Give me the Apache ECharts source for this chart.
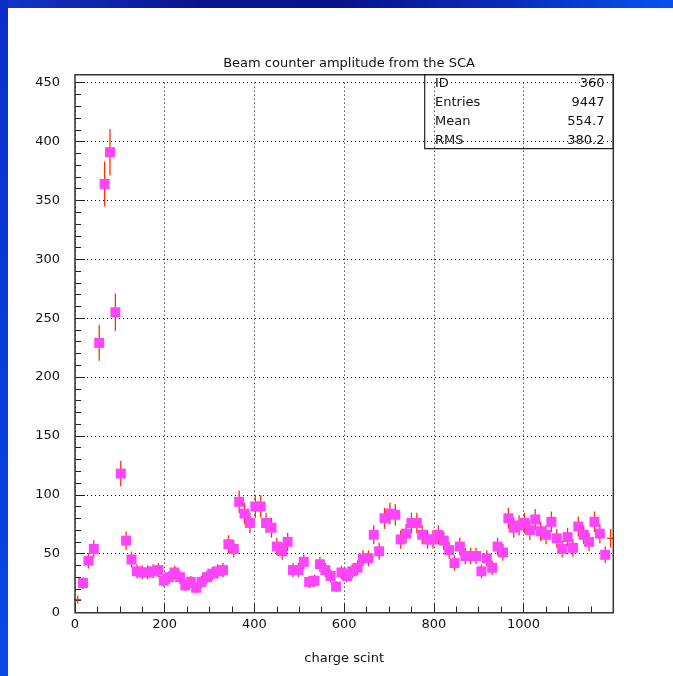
<!DOCTYPE html>
<html><head><meta charset="utf-8">
<script src="https://cdn.jsdelivr.net/npm/echarts@6/dist/echarts.min.js"></script>
<style>html,body{margin:0;padding:0;background:#fff;overflow:hidden}#c{width:673px;height:676px}</style>
</head><body><div id="c"></div>
<script>
// ---- data ----
const chartTitle = 'Beam counter amplitude from the SCA';
const xAxisTitle = 'charge scint';
const xMin = 0, xMax = 1200, binWidth = 12;
const yMin = 0, yMax = 450;
const xTickLabels = ['0', '200', '400', '600', '800', '1000'];
const counts = [
  11, 25, 44, 54, 229, 364, 391, 255, 118, 61,
  45, 35, 34, 34, 35, 36, 27, 30, 34, 30,
  23, 26, 21, 26, 30, 33, 35, 36, 58, 54,
  94, 84, 76, 90, 90, 76, 72, 56, 52, 60,
  36, 36, 43, 26, 27, 41, 36, 31, 22, 34,
  31, 35, 38, 46, 46, 66, 52, 80, 84, 83,
  62, 67, 76, 76, 66, 62, 62, 66, 61, 53,
  42, 56, 48, 48, 48, 35, 46, 38, 56, 51,
  80, 72, 74, 76, 70, 79, 69, 66, 77, 63,
  54, 64, 55, 73, 66, 60, 77, 67, 49, 63
];
const statLabels = ['ID', 'Entries', 'Mean', 'RMS'];
const statValues = ['360', '9447', '554.7', '380.2'];

// ---- layout / style ----
const FONT = '"DejaVu Sans", sans-serif';
const G = {left: 75, right: 59.7, top: 82.7, bottom: 63.5};
const MARK = 10;
const ERR_COLOR = '#ff3300';
const MARK_COLOR = '#ff44ff';

const pts = counts.map((v, i) => [xMin + binWidth * (i + 0.5), v, Math.sqrt(v)]);

const chart = echarts.init(document.getElementById('c'), null, {renderer: 'canvas'});

const statChildren = [];
const rowY = [85, 104, 123.3, 142.5];
statLabels.forEach((s, i) => {
  statChildren.push({type: 'text', left: 435, top: rowY[i] - 8, z: 20,
    style: {text: s, font: '13px ' + FONT, fill: '#111'}});
  statChildren.push({type: 'text', right: 673 - 604.5, top: rowY[i] - 8, z: 20,
    style: {text: statValues[i], font: '13px ' + FONT, fill: '#111', textAlign: 'right'}});
});

chart.setOption({
  animation: false,
  backgroundColor: '#ffffff',
  title: {
    text: chartTitle, left: 344, top: 52, textAlign: 'center',
    textStyle: {fontFamily: FONT, fontSize: 13, fontWeight: 'normal', color: '#111'}
  },
  grid: {left: G.left, right: G.right, top: G.top, bottom: G.bottom, containLabel: false},
  xAxis: {
    type: 'value', min: xMin, max: xMax, interval: 200,
    name: xAxisTitle, nameLocation: 'middle', nameGap: 40,
    nameTextStyle: {fontFamily: FONT, fontSize: 13, color: '#111'},
    axisLine: {show: false},
    axisTick: {show: true, inside: true, length: 9, lineStyle: {color: '#222', width: 1}},
    minorTick: {show: true, splitNumber: 4, length: 6, lineStyle: {color: '#222', width: 1}},
    axisLabel: {fontFamily: FONT, fontSize: 13, color: '#111', margin: 6,
      formatter: function (v) { const s = String(Math.round(v)); return xTickLabels.indexOf(s) >= 0 ? s : ''; }},
    splitLine: {show: true, lineStyle: {color: '#000', type: [1, 3], width: 1}}
  },
  yAxis: {
    type: 'value', min: yMin, max: yMax, interval: 50,
    axisLine: {show: false},
    axisTick: {show: true, inside: true, length: 10, lineStyle: {color: '#222', width: 1}},
    minorTick: {show: true, splitNumber: 5, length: 6, lineStyle: {color: '#222', width: 1}},
    axisLabel: {fontFamily: FONT, fontSize: 13, color: '#111', margin: 15,
      formatter: function (v) { return String(Math.round(v)); }},
    splitLine: {show: true, lineStyle: {color: '#000', type: [1, 3], width: 1}}
  },
  graphic: [
    {type: 'rect', left: 0, top: 0, z: -10, silent: true,
      shape: {width: 673, height: 8},
      style: {fill: new echarts.graphic.LinearGradient(0, 0, 1, 0, [
        {offset: 0, color: '#1236c8'}, {offset: 0.3, color: '#0a148c'},
        {offset: 0.5, color: '#08128a'}, {offset: 0.75, color: '#0a2cb8'},
        {offset: 1, color: '#0652ee'}])}},
    {type: 'rect', left: 0, top: 0, z: -10, silent: true,
      shape: {width: 8, height: 676},
      style: {fill: new echarts.graphic.LinearGradient(0, 0, 0, 1, [
        {offset: 0, color: '#0a2ec8'}, {offset: 1, color: '#0a48e6'}])}},
    {type: 'rect', z: 15, silent: true,
      shape: {x: 75, y: 74.7, width: 538.3, height: 538},
      style: {fill: 'none', stroke: '#333', lineWidth: 1.5}},
    {type: 'rect', z: 15, silent: true,
      shape: {x: 424.7, y: 74.5, width: 188.6, height: 74.2},
      style: {fill: 'none', stroke: '#222', lineWidth: 1.2}},
    ...statChildren
  ],
  series: [
    {
      type: 'custom', name: 'errors', data: pts, z: 5, clip: false,
      encode: {x: 0, y: 1},
      renderItem: function (params, api) {
        const x = api.value(0), v = api.value(1), e = api.value(2);
        const c = api.coord([x, v]);
        const lo = api.coord([x, v - e]);
        const hi = api.coord([x, v + e]);
        const cs = params.coordSys;
        const ch = [{type: 'line', shape: {x1: c[0], y1: lo[1], x2: c[0], y2: hi[1]},
          style: {stroke: ERR_COLOR, lineWidth: 1.3}}];
        if (c[0] - MARK / 2 < cs.x || c[0] + MARK / 2 > cs.x + cs.width) {
          ch.push({type: 'line', shape: {x1: c[0] - 3.5, y1: c[1], x2: c[0] + 3.5, y2: c[1]},
            style: {stroke: ERR_COLOR, lineWidth: 1.3}});
        }
        return {type: 'group', children: ch};
      }
    },
    {
      type: 'custom', name: 'markers', data: pts, z: 6, clip: false,
      encode: {x: 0, y: 1},
      renderItem: function (params, api) {
        const x = api.value(0), v = api.value(1);
        const c = api.coord([x, v]);
        const cs = params.coordSys;
        if (c[0] - MARK / 2 < cs.x || c[0] + MARK / 2 > cs.x + cs.width) return null;
        return {type: 'rect', shape: {x: c[0] - MARK / 2, y: c[1] - MARK / 2, width: MARK, height: MARK},
          style: {fill: MARK_COLOR}};
      }
    }
  ]
});
</script></body></html>
